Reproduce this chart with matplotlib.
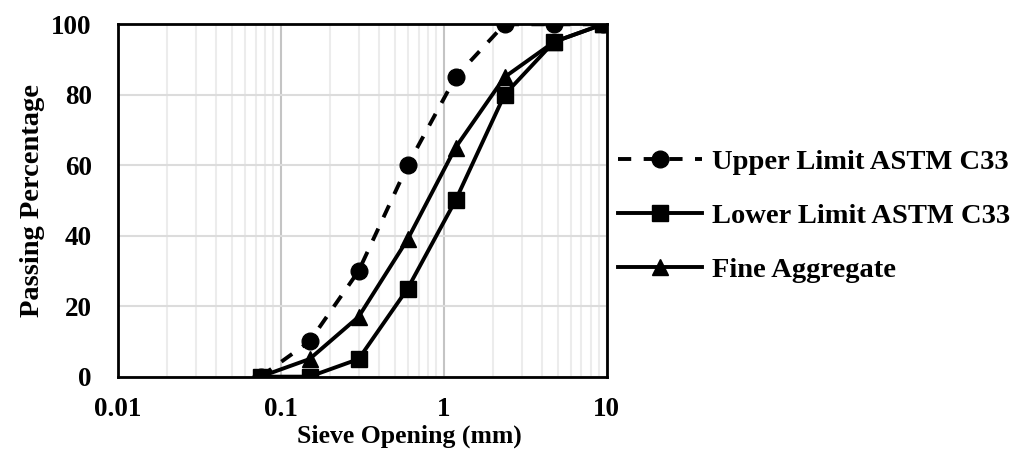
import matplotlib
matplotlib.use("Agg")
import matplotlib.pyplot as plt
from matplotlib.ticker import FixedLocator, LogLocator, NullFormatter

# sieve sizes (mm) and passing percentages
sieve_mm = [0.075, 0.15, 0.3, 0.6, 1.18, 2.36, 4.75, 9.5]
upper_limit = [0, 10, 30, 60, 85, 100, 100, 100]
lower_limit = [0, 0, 5, 25, 50, 80, 95, 100]
fine_aggregate = [0, 5, 17, 39, 65, 85, 95, 100]

x_ticks = [0.01, 0.1, 1, 10]
x_tick_labels = ["0.01", "0.1", "1", "10"]
y_ticks = [0, 20, 40, 60, 80, 100]

plt.rcParams["font.family"] = ["Liberation Serif", "DejaVu Serif"]
plt.rcParams["font.weight"] = "bold"

fig = plt.figure(figsize=(10.3, 4.5), dpi=100)
ax = fig.add_axes([0.1146, 0.163, 0.4744, 0.783])

ax.plot(sieve_mm, upper_limit, color="black", lw=2.8, linestyle=(0, (3.4, 3.2)),
        marker="o", markersize=12, label="Upper Limit ASTM C33", zorder=3)
ax.plot(sieve_mm, lower_limit, color="black", lw=2.8, marker="s", markersize=12,
        label="Lower Limit ASTM C33", zorder=4)
ax.plot(sieve_mm, fine_aggregate, color="black", lw=2.8, marker="^", markersize=12,
        label="Fine Aggregate", zorder=5)

ax.set_xscale("log")
ax.set_xlim(0.01, 10)
ax.set_ylim(0, 100)
ax.xaxis.set_major_locator(FixedLocator(x_ticks))
ax.set_xticklabels(x_tick_labels)
ax.xaxis.set_minor_locator(LogLocator(base=10, subs=range(2, 10), numticks=20))
ax.xaxis.set_minor_formatter(NullFormatter())
ax.set_yticks(y_ticks)

ax.grid(True, which="major", axis="x", color="#c4c4c4", lw=1.5)
ax.grid(True, which="minor", axis="x", color="#ececec", lw=1.5)
ax.grid(True, which="major", axis="y", color="#dcdcdc", lw=1.5)
ax.set_axisbelow(True)

ax.tick_params(axis="both", which="both", length=0, labelsize=19.5)
ax.tick_params(axis="x", pad=15)
ax.tick_params(axis="y", pad=19)
for spine in ax.spines.values():
    spine.set_linewidth(2)
    spine.set_color("black")

ax.set_xlabel("Sieve Opening (mm)", fontsize=18.5, fontweight="bold")
ax.xaxis.set_label_coords(0.597, -0.135)
ax.set_ylabel("Passing Percentage", fontsize=20.5, fontweight="bold")
ax.yaxis.set_label_coords(-0.15, 0.5)

leg = fig.legend(loc="center left", bbox_to_anchor=(0.575, 0.52), frameon=False,
                 fontsize=20.5, handlelength=2.95, handletextpad=0.35, labelspacing=0.98)
for text in leg.get_texts():
    text.set_fontweight("bold")

fig.savefig("out.png", dpi=100)
